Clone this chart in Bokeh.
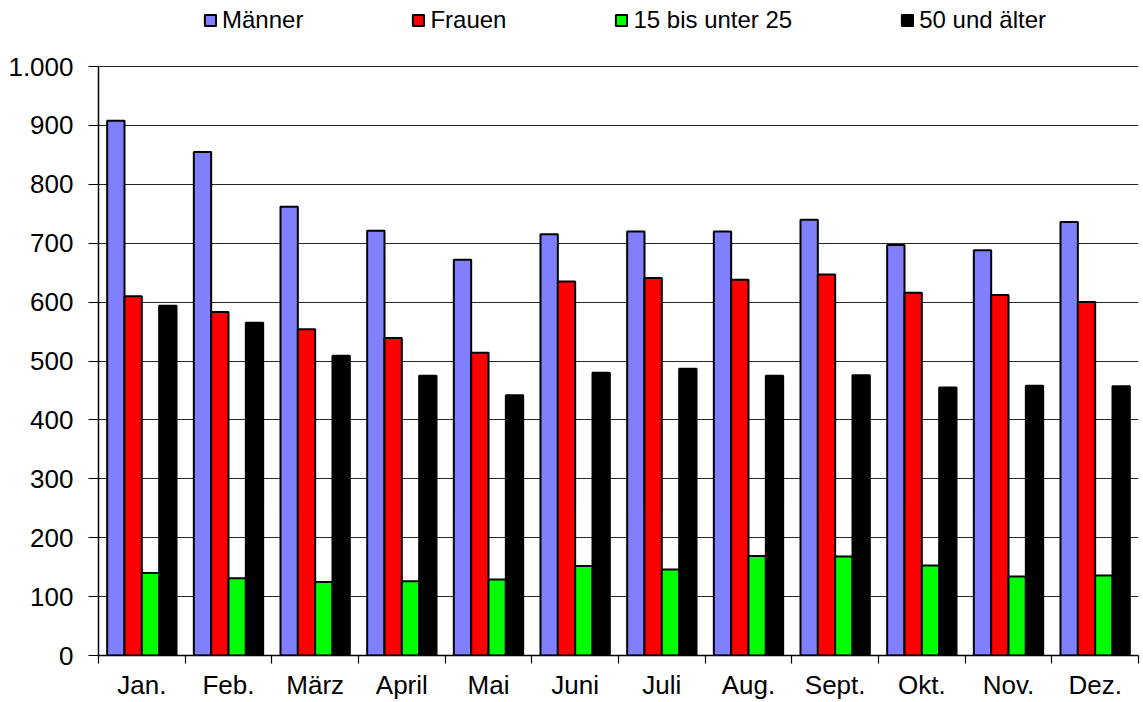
import numpy as np
from bokeh.plotting import figure
from bokeh.models import (ColumnDataSource, Range1d, FixedTicker, Legend, LegendItem)
from bokeh.transform import dodge
from bokeh.embed import file_html
from bokeh.resources import INLINE

months = ["Jan.", "Feb.", "März", "April", "Mai", "Juni", "Juli", "Aug.", "Sept.", "Okt.", "Nov.", "Dez."]
maenner = [908, 855, 762, 721, 672, 715, 720, 720, 740, 697, 688, 736]
frauen = [610, 583, 554, 539, 514, 635, 641, 638, 647, 616, 612, 600]
jugend = [140, 131, 125, 126, 129, 152, 146, 169, 168, 153, 134, 136]
aeltere = [594, 565, 509, 475, 442, 480, 487, 475, 476, 455, 458, 457]
y_ticks = [0, 100, 200, 300, 400, 500, 600, 700, 800, 900, 1000]
series_names = ["Männer", "Frauen", "15 bis unter 25", "50 und älter"]
series_colors = ["#8080FF", "#FF0000", "#00FF00", "#000000"]

FONT = "Liberation Sans"
TICK_FS = "26px"
LEG_FS = "24px"

W, H = 1143, 702
LEFT, RIGHT, BOTTOM = 98, 5, 47
frame_h = H - BOTTOM           # frame reaches the top of the canvas
axis_top_px = 66               # where the value 1000 sits
y_max = 1000 * frame_h / (frame_h - axis_top_px)

centers = np.arange(len(months)) + 0.5
src = ColumnDataSource(dict(x=centers, m=maenner, f=frauen, j=jugend, a=aeltere))

p = figure(width=W, height=H, output_backend="svg", toolbar_location=None,
           x_range=Range1d(0, len(months)), y_range=Range1d(0, y_max),
           min_border_left=LEFT, min_border_right=RIGHT, min_border_top=0,
           min_border_bottom=BOTTOM)
p.outline_line_color = None
p.background_fill_color = "white"
p.border_fill_color = "white"

cols = ["m", "f", "j", "a"]
offsets = [-0.3, -0.1, 0.1, 0.3]
renderers = []
for col, off, color in zip(cols, offsets, series_colors):
    r = p.vbar(x=dodge("x", off), top=col, width=0.2, bottom=0, source=src,
               fill_color=color, line_color="black", line_width=2)
    renderers.append(r)

# y axis
p.yaxis.ticker = FixedTicker(ticks=y_ticks)
p.yaxis.bounds = (0, 1000)
p.yaxis.major_label_overrides = {1000: "1.000"}
p.yaxis.major_tick_out = 10
p.yaxis.major_tick_in = 0
p.yaxis.minor_tick_line_color = None
p.yaxis.major_label_standoff = 15
p.yaxis.axis_line_color = "black"
p.yaxis.axis_line_width = 1.5
p.yaxis.major_tick_line_color = "black"
p.yaxis.major_tick_line_width = 1.2

# x axis
p.xaxis.ticker = FixedTicker(ticks=list(centers), minor_ticks=list(range(len(months) + 1)))
p.xaxis.major_label_overrides = {float(c): m for c, m in zip(centers, months)}
p.xaxis.major_tick_line_color = None
p.xaxis.major_tick_out = 0
p.xaxis.major_tick_in = 0
p.xaxis.minor_tick_out = 8
p.xaxis.minor_tick_in = 0
p.xaxis.minor_tick_line_color = "black"
p.xaxis.minor_tick_line_width = 1.2
p.xaxis.major_label_standoff = 6
p.xaxis.axis_line_color = "black"
p.xaxis.axis_line_width = 1.5

for ax in (p.xaxis, p.yaxis):
    ax.major_label_text_font = FONT
    ax.major_label_text_font_size = TICK_FS
    ax.major_label_text_color = "black"

p.xgrid.grid_line_color = None
p.ygrid.ticker = FixedTicker(ticks=y_ticks)
p.ygrid.grid_line_color = "#000000"
p.ygrid.grid_line_width = 1
p.ygrid.grid_line_alpha = 0.85

legend = Legend(items=[LegendItem(label=n, renderers=[r]) for n, r in zip(series_names, renderers)],
                location=(105, frame_h - 34), orientation="horizontal",
                glyph_width=14, glyph_height=14, label_standoff=5,
                padding=0, margin=0, spacing=108,
                border_line_color=None, background_fill_alpha=0,
                label_text_font=FONT, label_text_font_size=LEG_FS,
                label_text_color="black", label_height=28)
p.add_layout(legend, "center")

open("out.html", "w").write(file_html(p, INLINE))
